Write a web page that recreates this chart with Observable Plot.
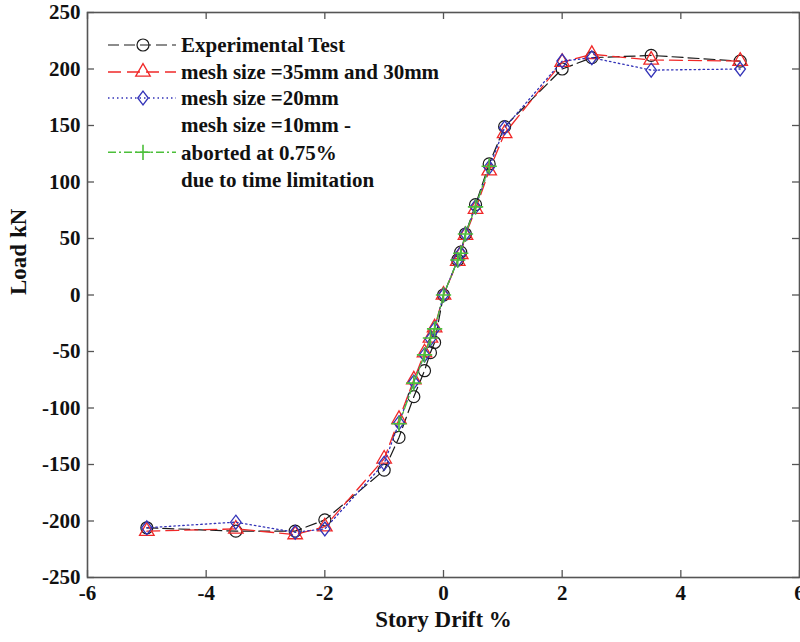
<!DOCTYPE html>
<html>
<head>
<meta charset="utf-8">
<script src="https://cdn.jsdelivr.net/npm/d3@7"></script>
<script src="https://cdn.jsdelivr.net/npm/@observablehq/plot@0.6"></script>
<style>
  html, body { margin: 0; padding: 0; background: #fff; }
  #chart { width: 800px; height: 642px; }
</style>
</head>
<body>
<div id="chart"></div>
<script>
// ---- Data ----
const xTicks = [-6, -4, -2, 0, 2, 4, 6];
const yTicks = [-250, -200, -150, -100, -50, 0, 50, 100, 150, 200, 250];

const expDrift = [-5, -3.5, -2.5, -2, -1, -0.75, -0.5, -0.32, -0.22, -0.15, 0, 0.24, 0.29, 0.37, 0.54, 0.77, 1.03, 2, 2.5, 3.5, 5];
const expLoad  = [-206, -209, -209, -199, -155, -126, -90, -67, -51, -42, 0, 31, 38, 54, 80, 116, 149, 200, 210, 212, 207];

const simDrift = [-5, -3.5, -2.5, -2, -1, -0.75, -0.5, -0.32, -0.22, -0.15, 0, 0.24, 0.29, 0.37, 0.54, 0.77, 1.03, 2, 2.5, 3.5, 5];
const mesh35Load = [-209, -207, -212, -205, -145, -110, -75, -51, -38, -29, 0, 30, 36, 53, 76, 110, 143, 206, 213, 208, 207];
const mesh20Load = [-206, -201, -210, -207, -149, -113, -77, -53, -39, -30, 0, 31, 37, 54, 78, 113, 148, 207, 210, 199, 200];

const mesh10Drift = [-0.75, -0.5, -0.32, -0.22, -0.15, 0, 0.24, 0.29, 0.37, 0.54, 0.77];
const mesh10Load  = [-114, -78, -53, -38, -30, 0, 31, 37, 54, 78, 114];

const seriesNames = ["Experimental Test", "mesh size =35mm and 30mm", "mesh size =20mm", "mesh size =10mm -|aborted at 0.75%|due to time limitation"];

// ---- Styles ----
const FONT = "'Liberation Serif', 'DejaVu Serif', serif";
const cBlack = "#1a1a1a", cRed = "#f02828", cBlue = "#3333b8", cGreen = "#4cbf3a";
const dashBlack = "11,5", dashRed = "13,6", dashBlue = "1.5,3", dashGreen = "8,3,2,3";

const W = 800, H = 642, mL = 87, mR = 1, mT = 12, mB = 65;
const plotW = W - mL - mR, plotH = H - mT - mB;
const tickLen = 7;
const frameColor = "#555";

const zip = (xs, ys) => xs.map((x, i) => ({x, y: ys[i]}));
const expData = zip(expDrift, expLoad);
const m35Data = zip(simDrift, mesh35Load);
const m20Data = zip(simDrift, mesh20Load);
const m10Data = zip(mesh10Drift, mesh10Load);

// custom diamond (slightly taller than wide)
const diamondSym = {
  draw(context, size) {
    const h = Math.sqrt(size) * 0.62, w = h * 0.76;
    context.moveTo(0, -h); context.lineTo(w, 0); context.lineTo(0, h); context.lineTo(-w, 0); context.closePath();
  }
};

const chart = Plot.plot({
  width: W, height: H,
  marginLeft: mL, marginRight: mR, marginTop: mT, marginBottom: mB,
  style: {fontFamily: FONT, fontWeight: "bold", fontSize: "21px", color: "#111", background: "#fff"},
  x: {domain: [-6, 6]},
  y: {domain: [-250, 250]},
  marks: [
    // inward ticks
    Plot.tickX(xTicks, {x: d => d, insetTop: plotH - tickLen, stroke: frameColor, strokeWidth: 1.3}),
    Plot.tickX(xTicks, {x: d => d, insetBottom: plotH - tickLen, stroke: frameColor, strokeWidth: 1.3}),
    Plot.tickY(yTicks, {y: d => d, insetRight: plotW - tickLen, stroke: frameColor, strokeWidth: 1.3}),
    Plot.tickY(yTicks, {y: d => d, insetLeft: plotW - tickLen, stroke: frameColor, strokeWidth: 1.3}),
    Plot.frame({stroke: frameColor, strokeWidth: 1.6}),
    Plot.axisX({ticks: xTicks, tickSize: 0, tickPadding: 8, tickFormat: d => String(d), label: null, fontSize: 21, fontWeight: "bold", fill: "#111"}),
    Plot.axisY({ticks: yTicks, tickSize: 0, tickPadding: 7, tickFormat: d => String(d), label: null, fontSize: 21, fontWeight: "bold", fill: "#111"}),
    Plot.text(["Story Drift %"], {frameAnchor: "bottom", dy: 49, fontSize: 23, fontWeight: "bold", fill: "#111"}),
    Plot.text(["Load kN"], {frameAnchor: "left", dx: -69, rotate: -90, fontSize: 23, fontWeight: "bold", fill: "#111"}),
    // series
    Plot.line(expData, {x: "x", y: "y", stroke: cBlack, strokeWidth: 1.2, strokeDasharray: dashBlack}),
    Plot.dot(expData, {x: "x", y: "y", symbol: "circle", r: 6, stroke: cBlack, strokeWidth: 1.2, fill: "none"}),
    Plot.line(m35Data, {x: "x", y: "y", stroke: cRed, strokeWidth: 1.3, strokeDasharray: dashRed}),
    Plot.dot(m35Data, {x: "x", y: "y", symbol: "triangle", r: 5.4, stroke: cRed, strokeWidth: 1.3, fill: "none"}),
    Plot.line(m20Data, {x: "x", y: "y", stroke: cBlue, strokeWidth: 1.3, strokeDasharray: dashBlue}),
    Plot.dot(m20Data, {x: "x", y: "y", symbol: diamondSym, r: 6.3, stroke: cBlue, strokeWidth: 1.3, fill: "none"}),
    Plot.line(m10Data, {x: "x", y: "y", stroke: cGreen, strokeWidth: 1.3, strokeDasharray: dashGreen}),
    Plot.dot(m10Data, {x: "x", y: "y", symbol: "plus", r: 5, stroke: cGreen, strokeWidth: 1.6, fill: "none"})
  ]
});

document.getElementById("chart").appendChild(chart);

// ---- Legend (inside plot, top-left) ----
const svg = d3.select(chart);
const lg = svg.append("g").attr("font-family", FONT).attr("font-weight", "bold").attr("font-size", 21)
  .attr("fill", "#111").attr("text-anchor", "start");
const rows = [
  {label: [seriesNames[0]], y: 45, color: cBlack, dash: dashBlack, sym: d3.symbolCircle, size: Math.PI * 36, sw: 1.2},
  {label: [seriesNames[1]], y: 72, color: cRed, dash: dashRed, sym: d3.symbolTriangle, size: Math.PI * 5.4 * 5.4, sw: 1.3},
  {label: [seriesNames[2]], y: 98, color: cBlue, dash: dashBlue, sym: diamondSym, size: Math.PI * 6.3 * 6.3, sw: 1.3},
  {label: seriesNames[3].split("|"), y: 125, color: cGreen, dash: dashGreen, sym: d3.symbolPlus, size: Math.PI * 25, sw: 1.6, lineOffset: 1}
];
const lx1 = 108, lx2 = 176, mx = 143, tx = 181, rowH = 27.3;
rows.forEach(r => {
  const ly = r.y + (r.lineOffset || 0) * rowH;
  lg.append("line").attr("x1", lx1).attr("x2", lx2).attr("y1", ly).attr("y2", ly)
    .attr("stroke", r.color).attr("stroke-width", r.sw).attr("stroke-dasharray", r.dash);
  lg.append("path").attr("d", d3.symbol(r.sym, r.size)()).attr("transform", `translate(${mx},${ly})`)
    .attr("fill", "none").attr("stroke", r.color).attr("stroke-width", r.sw);
  r.label.forEach((t, i) => {
    lg.append("text").attr("x", tx).attr("y", r.y + i * rowH).attr("dy", "0.35em").attr("text-anchor", "start").text(t);
  });
});
</script>
</body>
</html>
